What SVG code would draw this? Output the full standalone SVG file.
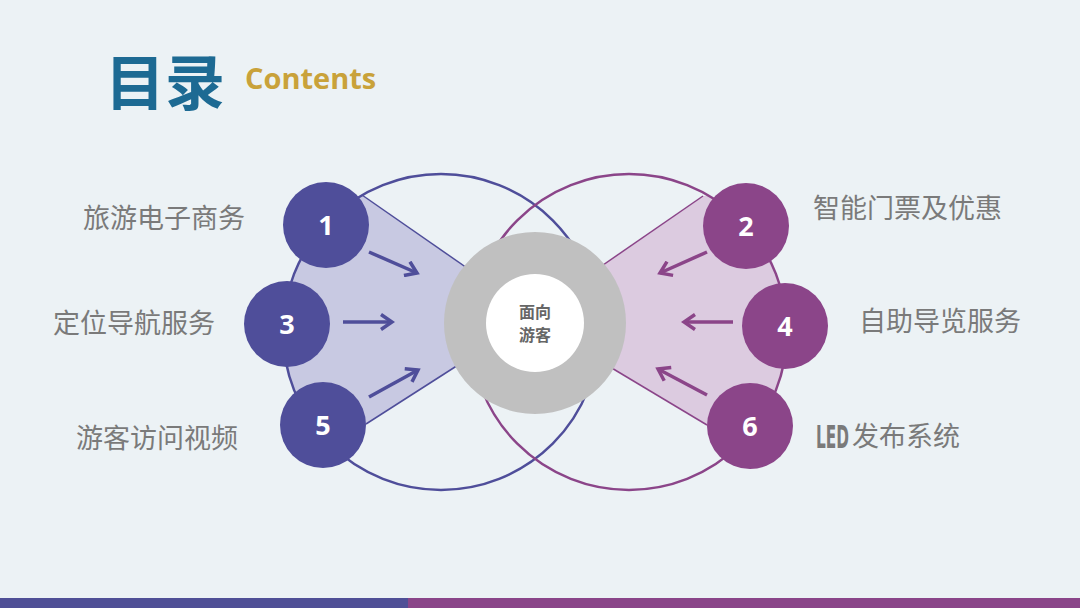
<svg xmlns="http://www.w3.org/2000/svg" width="1080" height="608" viewBox="0 0 1080 608">
<style>
.lbl{font-family:"Noto Sans CJK SC","Noto Sans",sans-serif;font-size:27px;fill:#7a7a7a}
.num{font-family:"Open Sans","Liberation Sans",sans-serif;font-size:27px;font-weight:bold;fill:#ffffff;text-anchor:middle}
.ctr{font-family:"Noto Sans CJK SC",sans-serif;font-size:16px;font-weight:bold;fill:#666666;text-anchor:middle}
.blue{fill:#4f4e9a}
.purp{fill:#8b4589}
.arrB{stroke:#4f4e9a;stroke-width:3.5;fill:none;marker-end:url(#mB)}
.arrP{stroke:#8b4589;stroke-width:3.5;fill:none;marker-end:url(#mP)}
</style>
<defs>
<marker id="mB" markerUnits="userSpaceOnUse" markerWidth="18" markerHeight="18" viewBox="0 0 18 18" refX="15" refY="9" orient="auto"><path d="M4,1.5 L15,9 L4,16.5" fill="none" stroke="#4f4e9a" stroke-width="3.5"/></marker>
<marker id="mP" markerUnits="userSpaceOnUse" markerWidth="18" markerHeight="18" viewBox="0 0 18 18" refX="15" refY="9" orient="auto"><path d="M4,1.5 L15,9 L4,16.5" fill="none" stroke="#8b4589" stroke-width="3.5"/></marker>
<clipPath id="cL"><circle cx="441" cy="332" r="158"/></clipPath>
<clipPath id="cR"><circle cx="629" cy="332" r="158"/></clipPath>
</defs>
<rect width="1080" height="608" fill="#ecf2f5"/>
<rect x="0" y="598" width="408" height="10" fill="#4f4f96"/>
<rect x="408" y="598" width="672" height="10" fill="#8a4589"/>
<text x="105" y="105" font-family="Noto Sans CJK SC,sans-serif" font-size="60" font-weight="bold" fill="#1d6a93">目录</text>
<text x="245" y="89" font-family="Open Sans,Liberation Sans,sans-serif" font-size="29" font-weight="bold" fill="#c9a23a">Contents</text>
<g id="wedges">
<polygon points="362,195 480,277 480,351 366,424 300,424 250,300 300,195" fill="#c8c9e2" clip-path="url(#cL)"/>
<polygon points="703,196 590,274 590,355 707,425 760,425 820,300 760,196" fill="#dccbe0" clip-path="url(#cR)"/>
</g>
<g id="connectors">
<circle cx="441" cy="332" r="158" fill="none" stroke="#4f4e9a" stroke-width="2.5"/>
<circle cx="629" cy="332" r="158" fill="none" stroke="#8b4589" stroke-width="2.5"/>
<line x1="362" y1="195" x2="480" y2="277" stroke="#4f4e9a" stroke-width="1.5"/>
<line x1="366" y1="424" x2="480" y2="351" stroke="#4f4e9a" stroke-width="1.5"/>
<line x1="703" y1="196" x2="590" y2="274" stroke="#8b4589" stroke-width="1.5"/>
<line x1="707" y1="425" x2="590" y2="355" stroke="#8b4589" stroke-width="1.5"/>
<path class="arrB" d="M369,252 L417,273"/>
<path class="arrB" d="M343,322 L392,322"/>
<path class="arrB" d="M369,397 L418,370"/>
<path class="arrP" d="M707,252 L660,273"/>
<path class="arrP" d="M733,322 L684,322"/>
<path class="arrP" d="M707,395 L658,369"/>
</g>
<g id="center">
<circle cx="535" cy="323" r="91" fill="#c0c0c0"/>
<circle cx="535" cy="323" r="49" fill="#ffffff"/>
<text class="ctr" x="535" y="318">面向</text>
<text class="ctr" x="535" y="341">游客</text>
</g>
<g id="n1"><circle class="blue" cx="326" cy="225" r="43"/><text class="num" x="326" y="235">1</text><text class="lbl" x="83" y="228">旅游电子商务</text></g>
<g id="n3"><circle class="blue" cx="287" cy="324" r="43"/><text class="num" x="287" y="334">3</text><text class="lbl" x="53" y="333">定位导航服务</text></g>
<g id="n5"><circle class="blue" cx="323" cy="425" r="43"/><text class="num" x="323" y="435">5</text><text class="lbl" x="76" y="448">游客访问视频</text></g>
<g id="n2"><circle class="purp" cx="746" cy="226" r="43"/><text class="num" x="746" y="236">2</text><text class="lbl" x="813" y="218">智能门票及优惠</text></g>
<g id="n4"><circle class="purp" cx="785" cy="326" r="43"/><text class="num" x="785" y="336">4</text><text class="lbl" x="859" y="331">自助导览服务</text></g>
<g id="n6"><circle class="purp" cx="750" cy="426" r="43"/><text class="num" x="750" y="436">6</text><text x="816" y="448" font-family="DejaVu Sans" font-weight="bold" font-size="32" fill="#7a7a7a" textLength="33" lengthAdjust="spacingAndGlyphs">LED</text><text class="lbl" x="852" y="446">发布系统</text></g>
</svg>
